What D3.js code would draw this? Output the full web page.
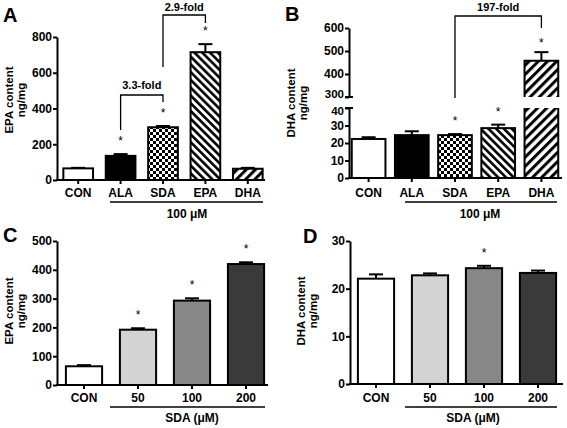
<!DOCTYPE html>
<html><head><meta charset="utf-8">
<script src="https://cdn.jsdelivr.net/npm/d3@7"></script>
<style>
body{margin:0;background:#fff;}
svg{display:block;font-family:"Liberation Sans",Arial,sans-serif;}
</style></head><body>
<svg id="c" width="567" height="428"></svg>
<script>
// ---------- data ----------
const catsAB = ["CON","ALA","SDA","EPA","DHA"];
const epaA = [65, 135, 295, 715, 63];
const epaAErr = [3, 10, 7, 45, 5];
const starsA = [false, true, true, true, false];
const dhaB = [22.3, 24.5, 24.5, 28.5, 458];
const dhaBErr = [1, 2.2, 0.6, 2, 37];
const starsB = [false, false, true, true, true];
const catsCD = ["CON","50","100","200"];
const epaC = [65, 192, 293, 420];
const epaCErr = [4, 5, 8, 6];
const starsC = [false, true, true, true];
const dhaD = [22.1, 22.8, 24.3, 23.3];
const dhaDErr = [0.9, 0.4, 0.5, 0.5];
const starsD = [false, false, true, false];
const ticksA = [0,200,400,600,800];
const ticksBLow = [0,10,20,30,40];
const ticksBHigh = [300,400,500,600];
const ticksC = [0,100,200,300,400,500];
const ticksD = [0,10,20,30];

const svg = d3.select("#c");
const defs = svg.append("defs");
// checkerboard
const ck = defs.append("pattern").attr("id","checker").attr("patternUnits","userSpaceOnUse").attr("width",6).attr("height",6);
ck.append("rect").attr("width",6).attr("height",6).attr("fill","#fff");
ck.append("rect").attr("width",3).attr("height",3).attr("fill","#000");
ck.append("rect").attr("x",3).attr("y",3).attr("width",3).attr("height",3).attr("fill","#000");
function stripes(id, w, bw, rot){
  const p = defs.append("pattern").attr("id",id).attr("patternUnits","userSpaceOnUse")
    .attr("width",w).attr("height",w).attr("patternTransform",`rotate(${rot})`);
  p.append("rect").attr("width",w).attr("height",w).attr("fill","#fff");
  p.append("rect").attr("width",bw).attr("height",w).attr("fill","#000");
}
stripes("stripeEPA", 5.5, 2.6, -45);
stripes("stripeDHA", 6.5, 3.0, 45);

const fillsAB = ["#fff","#000","url(#checker)","url(#stripeEPA)","url(#stripeDHA)"];
const fillsCD = ["#fff","#d3d3d3","#878787","#3a3a3a"];

function yAxis(g, y, ticks){
  const ax = g.append("g").attr("transform",`translate(${y.x0},0)`)
    .call(d3.axisLeft(y).tickValues(ticks).tickSize(4).tickSizeOuter(0).tickPadding(1));
  ax.select(".domain").attr("stroke","#000").attr("stroke-width",2);
  ax.selectAll(".tick line").attr("stroke","#000").attr("stroke-width",2);
  ax.selectAll(".tick text").attr("font-size",12).attr("font-weight","bold").attr("fill","#000");
  return ax;
}
function xAxis(g, x, y0, x0, x1, labelBase){
  g.append("line").attr("x1",x0-1).attr("x2",x1).attr("y1",y0).attr("y2",y0).attr("stroke","#000").attr("stroke-width",2);
  x.domain().forEach(c=>{
    const cx = x(c)+x.bandwidth()/2;
    g.append("line").attr("x1",cx).attr("x2",cx).attr("y1",y0).attr("y2",y0+4).attr("stroke","#000").attr("stroke-width",2);
    g.append("text").attr("x",cx).attr("y",labelBase).attr("text-anchor","middle")
      .attr("font-size",12).attr("font-weight","bold").text(c);
  });
}
function bars(g, x, y, cats, vals, errs, stars, fills){
  cats.forEach((c,i)=>{
    const bx = x(c), bw = x.bandwidth(), cx = bx+bw/2;
    const top = y(vals[i]), et = y(vals[i]+errs[i]);
    g.append("line").attr("x1",cx).attr("x2",cx).attr("y1",top).attr("y2",et).attr("stroke","#000").attr("stroke-width",2);
    g.append("line").attr("x1",cx-7).attr("x2",cx+7).attr("y1",et).attr("y2",et).attr("stroke","#000").attr("stroke-width",2);
    g.append("rect").attr("x",bx).attr("y",top).attr("width",bw).attr("height",y(0)-top)
      .attr("fill",fills[i]).attr("stroke","#000").attr("stroke-width",2);
    if(stars[i]) g.append("text").attr("x",cx).attr("y",et-15+6).attr("text-anchor","middle").attr("font-size",12).text("*");
  });
}
function ytitle(g, x1, x2, cy, t1){
  g.append("text").attr("transform",`translate(${x1},${cy}) rotate(-90)`).attr("text-anchor","middle")
    .attr("font-size",11.5).attr("font-weight","bold").text(t1);
  g.append("text").attr("transform",`translate(${x2},${cy}) rotate(-90)`).attr("text-anchor","middle")
    .attr("font-size",11.5).attr("font-weight","bold").text("ng/mg");
}
function letter(g, x, y, t){
  g.append("text").attr("x",x).attr("y",y).attr("font-size",20).attr("font-weight","bold").text(t);
}
function underline(g, x0, x1, y, tx, ty, t){
  g.append("line").attr("x1",x0).attr("x2",x1).attr("y1",y).attr("y2",y).attr("stroke","#000").attr("stroke-width",1.5);
  g.append("text").attr("x",tx).attr("y",ty).attr("text-anchor","middle").attr("font-size",12).attr("font-weight","bold").text(t);
}
function bracket(g, xa, xb, yTop, ya, yb, label, ly){
  g.append("path").attr("d",`M${xa},${ya}V${yTop}H${xb}V${yb}`).attr("fill","none").attr("stroke","#000").attr("stroke-width",1.3);
  g.append("text").attr("x",(xa+xb)/2).attr("y",ly).attr("text-anchor","middle").attr("font-size",11).attr("font-weight","bold").text(label);
}

// ---------- Panel A ----------
{
  const g = svg.append("g");
  const x = d3.scaleBand().domain(catsAB).range([57,269]).paddingInner(0.3).paddingOuter(0.15);
  const y = d3.scaleLinear().domain([0,800]).range([180,37]); y.x0 = 57;
  bars(g, x, y, catsAB, epaA, epaAErr, starsA, fillsAB);
  yAxis(g, y, ticksA);
  xAxis(g, x, 180, 57, 265, 197);
  const c = k => x(k)+x.bandwidth()/2;
  bracket(g, c("ALA"), c("SDA"), 95, 130, 102, "3.3-fold", 89);
  bracket(g, c("SDA"), c("EPA"), 15, 67, 23, "2.9-fold", 11);
  underline(g, 110, 263, 202, 187, 218, "100 \u03BCM");
  ytitle(g, 13, 25, 100, "EPA content");
  letter(g, 3, 22, "A");
}
// ---------- Panel B (broken axis) ----------
{
  const g = svg.append("g");
  const x = d3.scaleBand().domain(catsAB).range([347,563]).paddingInner(0.22).paddingOuter(0.11);
  const yl = d3.scaleLinear().domain([0,40]).range([178,108]); yl.x0 = 349;
  const yh = d3.scaleLinear().domain([300,600]).range([97,28]); yh.x0 = 349;
  const yv = v => v <= 40 ? yl(v) : (v >= 300 ? yh(v) : yh(300));
  const c = k => x(k)+x.bandwidth()/2;
  catsAB.forEach((k,i)=>{
    const bx = x(k), bw = x.bandwidth(), cx = bx+bw/2;
    const v = dhaB[i], e = v+dhaBErr[i];
    const top = yv(v), et = yv(e);
    g.append("line").attr("x1",cx).attr("x2",cx).attr("y1",top).attr("y2",et).attr("stroke","#000").attr("stroke-width",2);
    g.append("line").attr("x1",cx-7).attr("x2",cx+7).attr("y1",et).attr("y2",et).attr("stroke","#000").attr("stroke-width",2);
    if(v <= 40){
      g.append("rect").attr("x",bx).attr("y",top).attr("width",bw).attr("height",yl(0)-top)
        .attr("fill",fillsAB[i]).attr("stroke","#000").attr("stroke-width",2);
    } else {
      g.append("rect").attr("x",bx).attr("y",top).attr("width",bw).attr("height",yh(300)-top).attr("fill",fillsAB[i]);
      g.append("path").attr("d",`M${bx},${yh(300)}V${top}H${bx+bw}V${yh(300)}`).attr("fill","none").attr("stroke","#000").attr("stroke-width",2);
      g.append("rect").attr("x",bx).attr("y",yl(40)).attr("width",bw).attr("height",yl(0)-yl(40)).attr("fill",fillsAB[i]);
      g.append("path").attr("d",`M${bx},${yl(40)}V${yl(0)}H${bx+bw}V${yl(40)}`).attr("fill","none").attr("stroke","#000").attr("stroke-width",2);
    }
    if(starsB[i]) g.append("text").attr("x",cx).attr("y",et-(v>40?11:15)+6).attr("text-anchor","middle").attr("font-size",12).text("*");
  });
  const axL = yAxis(g, yl, ticksBLow);
  const axH = yAxis(g, yh, ticksBHigh);
  // nudge the labels next to the break apart so they do not collide
  axL.selectAll(".tick").filter(d=>d===40).select("text").attr("dy","0.55em").attr("font-size",11.5);
  axH.selectAll(".tick").filter(d=>d===300).select("text").attr("dy","0.05em").attr("font-size",11.5);
  [yl(40), yh(300)].forEach(yy=>{
    g.append("line").attr("x1",345).attr("x2",353).attr("y1",yy).attr("y2",yy).attr("stroke","#000").attr("stroke-width",2);
  });
  xAxis(g, x, 178, 349, 562, 197);
  bracket(g, c("SDA"), c("DHA"), 16, 98, 28, "197-fold", 11);
  underline(g, 405, 557, 202, 480, 218, "100 \u03BCM");
  ytitle(g, 295, 307, 103, "DHA content");
  letter(g, 285, 21, "B");
}
// ---------- Panel C ----------
{
  const g = svg.append("g");
  const x = d3.scaleBand().domain(catsCD).range([57,273]).paddingInner(0.33).paddingOuter(0.165);
  const y = d3.scaleLinear().domain([0,500]).range([385,241]); y.x0 = 57;
  bars(g, x, y, catsCD, epaC, epaCErr, starsC, fillsCD);
  yAxis(g, y, ticksC);
  xAxis(g, x, 385, 57, 268, 402);
  underline(g, 110, 265, 407, 192, 422, "SDA (\u03BCM)");
  ytitle(g, 13, 25, 311, "EPA content");
  letter(g, 3, 242, "C");
}
// ---------- Panel D ----------
{
  const g = svg.append("g");
  const x = d3.scaleBand().domain(catsCD).range([349,565]).paddingInner(0.33).paddingOuter(0.165);
  const y = d3.scaleLinear().domain([0,30]).range([384,241]); y.x0 = 350;
  bars(g, x, y, catsCD, dhaD, dhaDErr, starsD, fillsCD);
  yAxis(g, y, ticksD);
  xAxis(g, x, 384, 350, 563, 402);
  underline(g, 405, 557, 407, 473, 422, "SDA (\u03BCM)");
  ytitle(g, 305, 317, 311, "DHA content");
  letter(g, 303, 243, "D");
}
</script>
</body></html>
